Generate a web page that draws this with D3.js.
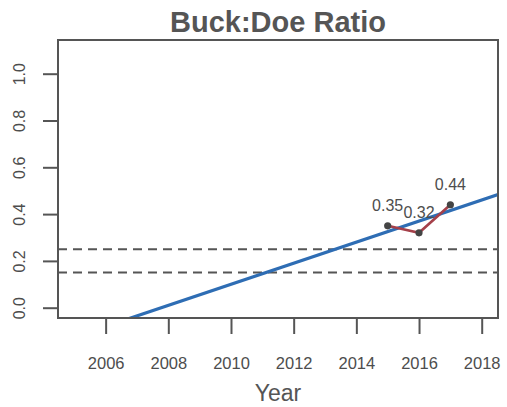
<!DOCTYPE html>
<html>
<head>
<meta charset="utf-8">
<script src="https://cdn.jsdelivr.net/npm/d3@7"></script>
<style>
html,body{margin:0;padding:0;background:#fff;}
svg{display:block;font-family:"Liberation Sans",Arial,sans-serif;}
</style>
</head>
<body>
<svg id="chart" width="507" height="407"></svg>
<script>
// ---- data ----
const years = [2015, 2016, 2017];
const ratios = [0.35, 0.32, 0.44];
const refLines = [0.25, 0.15];
const xTicks = [2006, 2008, 2010, 2012, 2014, 2016, 2018];
const yTicks = [0.0, 0.2, 0.4, 0.6, 0.8, 1.0];
const xLimits = [2005, 2018];
const yLimits = [0, 1.1];
const title = "Buck:Doe Ratio";
const xTitle = "Year";

// ---- layout ----
const svg = d3.select("#chart");
const L = 58, R = 498, T = 40, B = 318;
const pad = (lim) => { const d = (lim[1] - lim[0]) * 0.04; return [lim[0] - d, lim[1] + d]; };
const x = d3.scaleLinear().domain(pad(xLimits)).range([L, R]);
const y = d3.scaleLinear().domain(pad(yLimits)).range([B, T]);

const txt = "#4d4d4d", ln = "#555";

svg.append("defs").append("clipPath").attr("id", "clip")
  .append("rect").attr("x", L).attr("y", T).attr("width", R - L).attr("height", B - T);

// title
svg.append("text").attr("x", (L + R) / 2).attr("y", 32).attr("text-anchor", "middle")
  .attr("font-size", 29).attr("font-weight", "bold").attr("fill", "#555").text(title);

// reference dashed lines
svg.append("g").selectAll("line").data(refLines).join("line")
  .attr("x1", L).attr("x2", R).attr("y1", d => y(d)).attr("y2", d => y(d))
  .attr("stroke", ln).attr("stroke-width", 2).attr("stroke-dasharray", "9,6");

// regression trend line (least squares fit of the data)
const mx = d3.mean(years), my = d3.mean(ratios);
const slope = d3.sum(years, (v, i) => (v - mx) * (ratios[i] - my)) / d3.sum(years, v => (v - mx) ** 2);
const icpt = my - slope * mx;
const xd = x.domain();
svg.append("line").attr("clip-path", "url(#clip)")
  .attr("x1", x(xd[0])).attr("y1", y(icpt + slope * xd[0]))
  .attr("x2", x(xd[1])).attr("y2", y(icpt + slope * xd[1]))
  .attr("stroke", "#2e6db4").attr("stroke-width", 3.2);

// data line
const pts = years.map((v, i) => [v, ratios[i]]);
svg.append("path").datum(pts)
  .attr("d", d3.line().x(d => x(d[0])).y(d => y(d[1])))
  .attr("fill", "none").attr("stroke", "#a5404a").attr("stroke-width", 2.6);

svg.append("g").selectAll("circle").data(pts).join("circle")
  .attr("cx", d => x(d[0])).attr("cy", d => y(d[1])).attr("r", 3.6)
  .attr("fill", "#444");

svg.append("g").selectAll("text").data(pts).join("text")
  .attr("x", d => x(d[0])).attr("y", d => y(d[1]) - 15)
  .attr("text-anchor", "middle").attr("font-size", 16).attr("fill", txt)
  .text(d => d[1].toFixed(2));

// box
svg.append("rect").attr("x", L).attr("y", T).attr("width", R - L).attr("height", B - T)
  .attr("fill", "none").attr("stroke", ln).attr("stroke-width", 2);

// x axis
const xAxis = d3.axisBottom(x).tickValues(xTicks).tickFormat(d3.format("d"))
  .tickSize(16).tickPadding(23);
const gx = svg.append("g").attr("transform", `translate(0,${B})`).call(xAxis);
gx.select(".domain").remove();
gx.selectAll(".tick line").attr("stroke", ln).attr("stroke-width", 2);
gx.selectAll(".tick text").attr("font-size", 16.5).attr("fill", txt)
  .attr("font-family", "Liberation Sans, Arial, sans-serif");

// y axis
const yAxis = d3.axisLeft(y).tickValues(yTicks).tickFormat(d3.format(".1f")).tickSize(15);
const gy = svg.append("g").attr("transform", `translate(${L},0)`).call(yAxis);
gy.select(".domain").remove();
gy.selectAll(".tick line").attr("stroke", ln).attr("stroke-width", 2);
gy.selectAll(".tick text")
  .attr("font-size", 16).attr("fill", txt).attr("font-family", "Liberation Sans, Arial, sans-serif")
  .attr("x", null).attr("dy", null).attr("text-anchor", "middle")
  .attr("transform", "translate(-33,0) rotate(-90)");

// x axis title
svg.append("text").attr("x", (L + R) / 2).attr("y", 401).attr("text-anchor", "middle")
  .attr("font-size", 23).attr("fill", "#555").text(xTitle);
</script>
</body>
</html>
